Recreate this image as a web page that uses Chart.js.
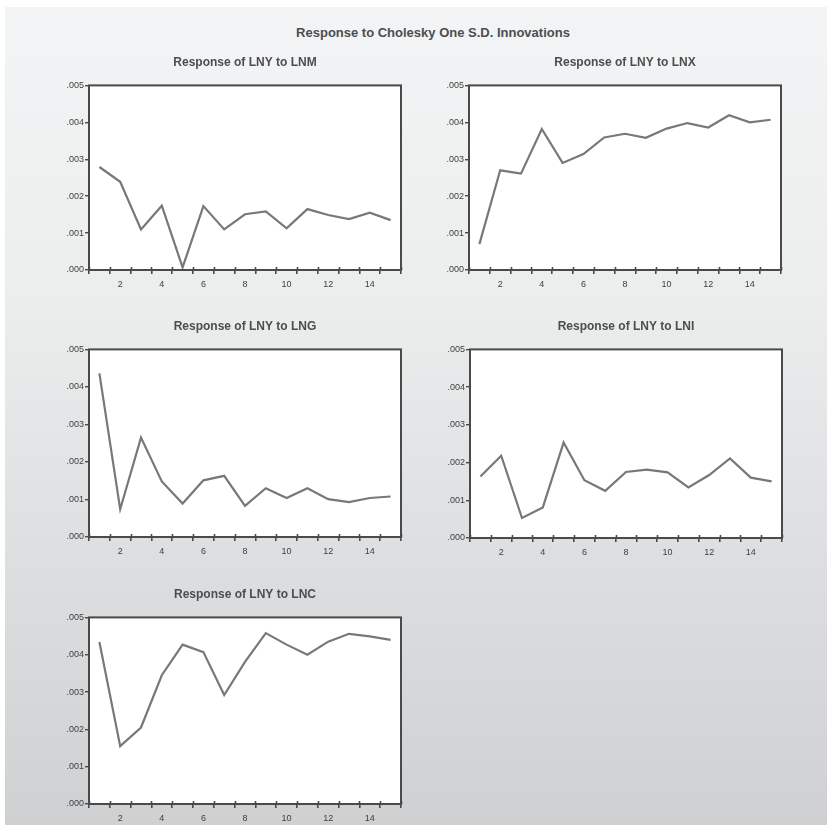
<!DOCTYPE html>
<html>
<head>
<meta charset="utf-8">
<script src="https://cdn.jsdelivr.net/npm/chart.js@4"></script>
<style>
  html, body { margin: 0; padding: 0; background: #fff; }
  #page { position: relative; width: 827px; height: 825px; overflow: hidden; background: #fff; }
  #bg { position: absolute; left: 5px; top: 7px; right: 0; bottom: 0;
        background: linear-gradient(to bottom, #f3f4f5 0%, #eceded 35%, #dcdddf 70%, #cfd0d2 100%); }
  #mainTitle { position: absolute; left: 0; width: 866px; top: 25px; text-align: center;
               font-family: Arial, "Liberation Sans", sans-serif; font-size: 13px; font-weight: bold; color: #4d4d4d; }
  .panel { position: absolute; }
</style>
</head>
<body>
<div id="page">
  <div id="bg"></div>
  <div id="mainTitle">Response to Cholesky One S.D. Innovations</div>
</div>
<script>
// Periodos del impulso-respuesta
const periods = [1, 2, 3, 4, 5, 6, 7, 8, 9, 10, 11, 12, 13, 14, 15];

// Respuestas
const respLNM = [0.00279, 0.00239, 0.00110, 0.00174, 0.00007, 0.00173, 0.00110, 0.00151, 0.00159, 0.00113, 0.00165, 0.00149, 0.00138, 0.00155, 0.00135];
const respLNX = [0.00070, 0.00270, 0.00261, 0.00382, 0.00290, 0.00314, 0.00359, 0.00369, 0.00358, 0.00383, 0.00398, 0.00386, 0.00419, 0.00400, 0.00407];
const respLNG = [0.00436, 0.00074, 0.00265, 0.00148, 0.00089, 0.00151, 0.00163, 0.00083, 0.00130, 0.00104, 0.00130, 0.00101, 0.00093, 0.00104, 0.00108];
const respLNI = [0.00163, 0.00218, 0.00053, 0.00081, 0.00253, 0.00153, 0.00125, 0.00175, 0.00181, 0.00174, 0.00134, 0.00167, 0.00211, 0.00160, 0.00150];
const respLNC = [0.00434, 0.00155, 0.00205, 0.00345, 0.00427, 0.00407, 0.00292, 0.00381, 0.00458, 0.00427, 0.00400, 0.00435, 0.00456, 0.00449, 0.00440];

const panelTitles = ['Response of LNY to LNM', 'Response of LNY to LNX', 'Response of LNY to LNG', 'Response of LNY to LNI', 'Response of LNY to LNC'];

// Rectangulos del area de trazado (izq, arriba, der, abajo)
const panels = [
    { series: respLNM, box: [89, 85, 401, 270] },
    { series: respLNX, box: [469, 85, 781, 270] },
    { series: respLNG, box: [89, 349, 401, 537] },
    { series: respLNI, box: [470, 349, 782, 538] },
    { series: respLNC, box: [89, 617, 401, 804] }
];

const Y_AXIS_W = 52;
const TOP_H = 40;
const X_AXIS_H = 22;
const RIGHT_PAD = 8;

Chart.defaults.font.family = 'Arial, "Liberation Sans", sans-serif';
Chart.defaults.color = '#404040';

// Marco y fondo blanco del area de trazado
const framePlugin = {
    id: 'frame',
    beforeDraw(chart) {
        const { ctx, chartArea: a } = chart;
        ctx.save();
        ctx.fillStyle = '#ffffff';
        ctx.fillRect(a.left, a.top, a.right - a.left, a.bottom - a.top);
        ctx.restore();
    },
    afterDraw(chart) {
        const { ctx, chartArea: a } = chart;
        const xs = chart.scales.x;
        ctx.save();
        ctx.strokeStyle = '#4a4a4a';
        ctx.lineWidth = 1.6;
        // pequeñas marcas hacia dentro en el eje x
        ctx.beginPath();
        xs.ticks.forEach(t => {
            if (Number.isInteger(t.value)) return;
            const px = Math.round(xs.getPixelForValue(t.value)) + 0.5;
            ctx.moveTo(px, a.bottom);
            ctx.lineTo(px, a.bottom - 3);
        });
        ctx.stroke();
        ctx.lineWidth = 2;
        ctx.strokeRect(a.left, a.top, a.right - a.left, a.bottom - a.top);
        ctx.restore();
    }
};

const page = document.getElementById('page');

panels.forEach((p, idx) => {
    const [L, T, R, B] = p.box;
    const div = document.createElement('div');
    div.className = 'panel';
    div.style.left = (L - Y_AXIS_W) + 'px';
    div.style.top = (T - TOP_H) + 'px';
    div.style.width = (R - L + Y_AXIS_W + RIGHT_PAD) + 'px';
    div.style.height = (B - T + TOP_H + X_AXIS_H) + 'px';
    const canvas = document.createElement('canvas');
    div.appendChild(canvas);
    page.appendChild(div);

    new Chart(canvas.getContext('2d'), {
        type: 'line',
        data: {
            datasets: [{
                data: periods.map((x, i) => ({ x: x, y: p.series[i] })),
                borderColor: '#787878',
                borderWidth: 2.2,
                pointRadius: 0,
                tension: 0,
                fill: false
            }]
        },
        options: {
            responsive: true,
            maintainAspectRatio: false,
            animation: false,
            layout: { padding: { left: 0, right: RIGHT_PAD, top: 0, bottom: 0 } },
            plugins: {
                legend: { display: false },
                tooltip: { enabled: false },
                title: {
                    display: true,
                    fullSize: false,
                    text: panelTitles[idx],
                    color: '#4d4d4d',
                    font: { size: 12, weight: 'bold' },
                    padding: { top: 10, bottom: 16 }
                }
            },
            scales: {
                x: {
                    type: 'linear',
                    min: 0.5,
                    max: 15.5,
                    afterFit(scale) { scale.height = X_AXIS_H; },
                    afterBuildTicks(scale) {
                        const t = [];
                        for (let v = 0.5; v <= 15.5; v += 0.5) t.push({ value: v });
                        scale.ticks = t;
                    },
                    border: { display: false },
                    grid: {
                        drawOnChartArea: false,
                        drawTicks: true,
                        tickLength: 4,
                        color: ctx => (ctx.tick && Number.isInteger(ctx.tick.value)) ? 'rgba(0,0,0,0)' : '#4a4a4a',
                        lineWidth: ctx => (ctx.tick && Number.isInteger(ctx.tick.value)) ? 0 : 1.6
                    },
                    ticks: {
                        autoSkip: false,
                        maxRotation: 0,
                        padding: 5,
                        font: { size: 9 },
                        callback: v => (Number.isInteger(v) && v % 2 === 0) ? String(v) : ''
                    }
                },
                y: {
                    min: 0,
                    max: 0.005,
                    afterFit(scale) { scale.width = Y_AXIS_W; },
                    border: { display: false },
                    grid: {
                        drawOnChartArea: false,
                        drawTicks: true,
                        tickLength: 4,
                        color: '#4a4a4a',
                        lineWidth: 1.4
                    },
                    ticks: {
                        stepSize: 0.001,
                        padding: 1,
                        font: { size: 9 },
                        callback: v => '.' + String(Math.round(v * 1000)).padStart(3, '0')
                    }
                }
            }
        },
        plugins: [framePlugin]
    });
});
</script>
</body>
</html>
